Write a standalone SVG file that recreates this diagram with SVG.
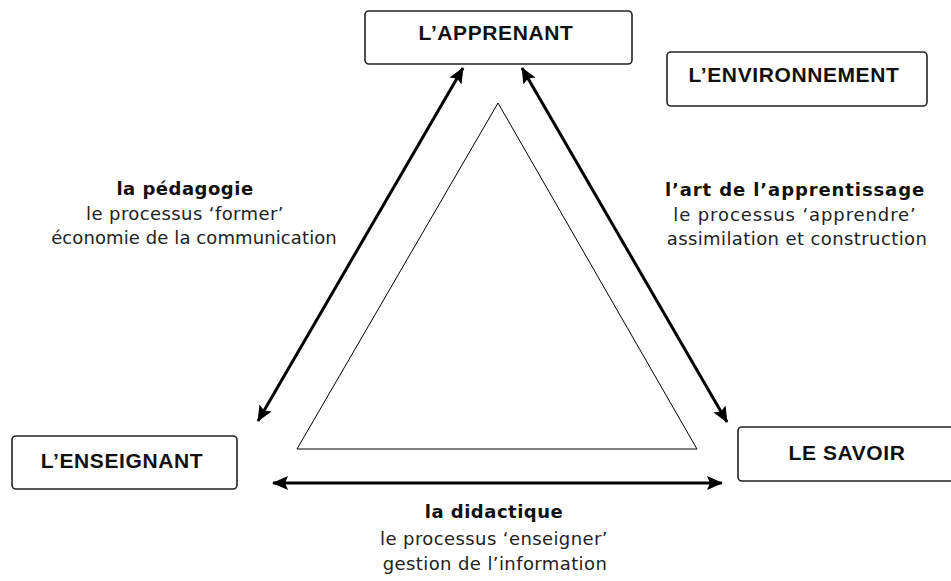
<svg xmlns="http://www.w3.org/2000/svg" width="951" height="581" viewBox="0 0 951 581">
  <style>
    .box { fill: #ffffff; stroke: #222222; stroke-width: 1.6; }
    .btxt { font-family: "Liberation Sans", Arial, sans-serif; font-weight: bold; font-size: 21px; letter-spacing: 0.6px; fill: #111111; text-anchor: middle; }
    .ttl { font-family: "DejaVu Sans", Verdana, sans-serif; font-weight: bold; font-size: 18px; letter-spacing: 0.5px; fill: #111111; text-anchor: middle; }
    .sub { font-family: "DejaVu Sans", Verdana, sans-serif; font-size: 18px; letter-spacing: 0.4px; fill: #222222; text-anchor: middle; }
    .conn { stroke: #000000; stroke-width: 3; fill: none; marker-start: url(#ah); marker-end: url(#ah); }
    .tri { fill: none; stroke: #000000; stroke-width: 1; }
  </style>
  <defs>
    <marker id="ah" viewBox="0 0 16 14" refX="15" refY="7" markerWidth="16" markerHeight="14" markerUnits="userSpaceOnUse" orient="auto-start-reverse">
      <path d="M0,0 L16,7 L0,14 L3,7 z" fill="#000000"/>
    </marker>
  </defs>
  <rect width="951" height="581" fill="#ffffff"/>

  <g id="triangle">
    <polygon class="tri" points="498,103 697,449 297,449"/>
  </g>

  <g id="connectors">
    <line class="conn" x1="258" y1="421" x2="463" y2="68"/>
    <line class="conn" x1="522" y1="68" x2="727" y2="422"/>
    <line class="conn" x1="273" y1="483" x2="722" y2="483"/>
  </g>

  <g id="apprenant">
    <rect class="box" x="365" y="11" width="267" height="53" rx="4"/>
    <text class="btxt" x="496" y="40">L’APPRENANT</text>
  </g>
  <g id="environnement">
    <rect class="box" x="667" y="52" width="260" height="54" rx="4"/>
    <text class="btxt" x="794" y="82">L’ENVIRONNEMENT</text>
  </g>
  <g id="enseignant">
    <rect class="box" x="12" y="436" width="225" height="53" rx="4"/>
    <text class="btxt" x="122" y="468">L’ENSEIGNANT</text>
  </g>
  <g id="savoir">
    <rect class="box" x="738" y="427" width="240" height="54" rx="4"/>
    <text class="btxt" x="847" y="460">LE SAVOIR</text>
  </g>

  <g id="label-pedagogie">
    <text class="ttl" x="185" y="195">la pédagogie</text>
    <text class="sub" x="185" y="220">le processus ‘former’</text>
    <text class="sub" x="194" y="244" style="letter-spacing:0.1px">économie de la communication</text>
  </g>
  <g id="label-apprentissage">
    <text class="ttl" x="795" y="196" style="letter-spacing:0.9px">l’art de l’apprentissage</text>
    <text class="sub" x="795" y="221" style="letter-spacing:0.9px">le processus ‘apprendre’</text>
    <text class="sub" x="797" y="245">assimilation et construction</text>
  </g>
  <g id="label-didactique">
    <text class="ttl" x="494" y="518">la didactique</text>
    <text class="sub" x="494" y="545">le processus ‘enseigner’</text>
    <text class="sub" x="495" y="570">gestion de l’information</text>
  </g>
</svg>
